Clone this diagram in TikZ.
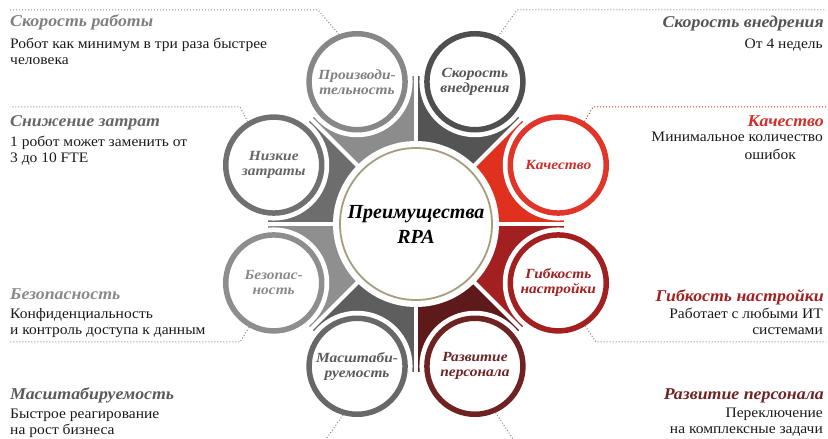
\documentclass[tikz,border=0pt]{standalone}
\usepackage{fontspec}
\setmainfont{Liberation Serif}
\newfontfamily\bodyfont{Liberation Serif}[FakeStretch=1.07]
\newfontfamily\headfont{Liberation Serif}[FakeStretch=1.08]
\newfontfamily\ringfont{Liberation Serif}[FakeStretch=1.1]
\usetikzlibrary{calc}

% sector colours
\definecolor{wProd}{HTML}{8C8C8C}
\definecolor{wSpeed}{HTML}{545454}
\definecolor{wQual}{HTML}{E0301E}
\definecolor{wFlex}{HTML}{A32020}
\definecolor{wStaff}{HTML}{5E1A1A}
\definecolor{wScale}{HTML}{5E5E5E}
\definecolor{wSec}{HTML}{8F8F8F}
\definecolor{wCost}{HTML}{6D6D6D}
% ring colours
\definecolor{rProd}{HTML}{878787}
\definecolor{rSpeed}{HTML}{4F4F4F}
\definecolor{rQual}{HTML}{E2352A}
\definecolor{rFlex}{HTML}{A32020}
\definecolor{rStaff}{HTML}{6E2222}
\definecolor{rScale}{HTML}{686868}
\definecolor{rSec}{HTML}{8E8E8E}
\definecolor{rCost}{HTML}{707070}
% label colours
\definecolor{tProd}{HTML}{808080}
\definecolor{tSpeed}{HTML}{555555}
\definecolor{tQual}{HTML}{D0302A}
\definecolor{tFlex}{HTML}{A32020}
\definecolor{tStaff}{HTML}{6E2424}
\definecolor{tScale}{HTML}{5A5A5A}
\definecolor{tSec}{HTML}{8A8A8A}
\definecolor{tCost}{HTML}{666666}
\definecolor{coreRim}{HTML}{A59E7E}
\definecolor{bodyText}{HTML}{1A1A1A}
\definecolor{lineGray}{HTML}{8A8A8A}

\begin{document}
\begin{tikzpicture}[x=1pt,y=1pt,
  ring/.style={circle, minimum size=96pt, inner sep=0pt, line width=5.5pt,
    fill=white, align=center,
    font=\ringfont\fontsize{14}{15}\selectfont\bfseries\itshape},
  callout/.style={dotted, line width=1pt, draw=lineGray},
  title/.style={inner sep=0pt, font=\headfont\fontsize{16.5}{18}\selectfont\bfseries\itshape},
  body/.style={inner sep=0pt, text=bodyText, font=\bodyfont\fontsize{14.5}{16}\selectfont},
]
\useasboundingbox (0,0) rectangle (828,439);
\coordinate (C) at (416,215);

% coloured sectors behind the circles
\foreach \a/\col in {90/wProd, 45/wSpeed, 0/wQual, -45/wFlex,
                     -90/wStaff, -135/wScale, 180/wSec, 135/wCost} {
  \fill[\col] (C) -- ++(\a:148) arc[start angle=\a, end angle=\a+45, radius=148] -- cycle;
}
% white gaps between the sectors
\foreach \a in {0,45,...,315} {
  \draw[white, line width=4pt] (C) -- ++(\a:170);
}

% central circle
\fill[white] (C) circle[radius=83];
\node[circle, draw=coreRim, line width=1.8pt, fill=white, minimum size=152pt,
      align=center, font=\fontsize{20}{25}\selectfont\bfseries\itshape]
  (core) at (C) {Преимущества\\RPA};

% white halos round the outer circles
\foreach \a in {22.5,67.5,...,337.5} {
  \fill[white] ($(C)+(\a:154)$) circle[radius=55.5];
}

% outer circles
\node[ring, draw=rProd,  text=tProd]  (prod)  at ($(C)+(112.5:154)$) {Производи-\\тельность};
\node[ring, draw=rSpeed, text=tSpeed] (speed) at ($(C)+(67.5:154)$)  {Скорость\\внедрения};
\node[ring, draw=rQual,  text=tQual]  (qual)  at ($(C)+(22.5:154)$)  {Качество};
\node[ring, draw=rFlex,  text=tFlex]  (flex)  at ($(C)+(-22.5:154)$) {Гибкость\\настройки};
\node[ring, draw=rStaff, text=tStaff] (staff) at ($(C)+(-67.5:154)$) {Развитие\\персонала};
\node[ring, draw=rScale, text=tScale] (scale) at ($(C)+(-112.5:154)$) {Масштаби-\\руемость};
\node[ring, draw=rSec,   text=tSec]   (sec)   at ($(C)+(-157.5:154)$) {Безопас-\\ность};
\node[ring, draw=rCost,  text=tCost]  (cost)  at ($(C)+(157.5:154)$) {Низкие\\затраты};

% callout leaders
\coordinate (k1) at (318,429); \coordinate (k1e) at (10,429);
\coordinate (k2) at (517,429); \coordinate (k2e) at (826,429);
\coordinate (k3) at (240,332); \coordinate (k3e) at (10,332);
\coordinate (k4) at (593,332); \coordinate (k4e) at (826,332);
\coordinate (k5) at (240,97);  \coordinate (k5e) at (10,97);
\coordinate (k6) at (596,97);  \coordinate (k6e) at (826,97);
\coordinate (k7e) at (326,0);
\coordinate (k8e) at (513,0);
\draw[callout] (prod.111) -- (k1) -- (k1e);
\draw[callout] (speed.63) -- (k2) -- (k2e);
\draw[callout] (cost.121) -- (k3) -- (k3e);
\draw[callout, draw=wQual] (qual.59) -- (k4) -- (k4e);
\draw[callout] (sec.241) -- (k5) -- (k5e);
\draw[callout] (flex.-58) -- (k6) -- (k6e);
\draw[callout] (scale.-106) -- (k7e);
\draw[callout] (staff.-66) -- (k8e);

% left-hand descriptions
\node[title, text=tProd, anchor=base west] (h1) at (10,412) {Скорость работы};
\node[body, anchor=base west] (d1) at (10,390)
  {\begin{tabular}[t]{@{}l@{}}Робот как минимум в три раза быстрее\\человека\end{tabular}};
\node[title, text=tCost, anchor=base west] (h3) at (10,312) {Снижение затрат};
\node[body, anchor=base west] (d3) at (10,292)
  {\begin{tabular}[t]{@{}l@{}}1 робот может заменить от\\3 до 10 FTE\end{tabular}};
\node[title, text=tSec, anchor=base west] (h5) at (10,139) {Безопасность};
\node[body, anchor=base west] (d5) at (10,120)
  {\begin{tabular}[t]{@{}l@{}}Конфиденциальность\\и контроль доступа к данным\end{tabular}};
\node[title, text=tScale, anchor=base west] (h7) at (10,39) {Масштабируемость};
\node[body, anchor=base west] (d7) at (10,20)
  {\begin{tabular}[t]{@{}l@{}}Быстрое реагирование\\на рост бизнеса\end{tabular}};

% right-hand descriptions
\node[title, text=tSpeed, anchor=base east] (h2) at (824,411) {Скорость внедрения};
\node[body, anchor=base east] (d2) at (823,390) {От 4 недель};
\node[title, text=tQual, anchor=base east] (h4) at (824,312) {Качество};
\node[body, anchor=base east] (d4) at (823,297)
  {\begin{tabular}[t]{@{}r@{}}Минимальное количество\\[2pt]ошибок\hspace*{27pt}\end{tabular}};
\node[title, text=tFlex, anchor=base east] (h6) at (824,137) {Гибкость настройки};
\node[body, anchor=base east] (d6) at (823,120)
  {\begin{tabular}[t]{@{}r@{}}Работает с любыми ИТ\\системами\end{tabular}};
\node[title, text=tStaff, anchor=base east] (h8) at (824,39) {Развитие персонала};
\node[body, anchor=base east] (d8) at (823,21)
  {\begin{tabular}[t]{@{}r@{}}Переключение\\на комплексные задачи\end{tabular}};
\end{tikzpicture}
\end{document}
